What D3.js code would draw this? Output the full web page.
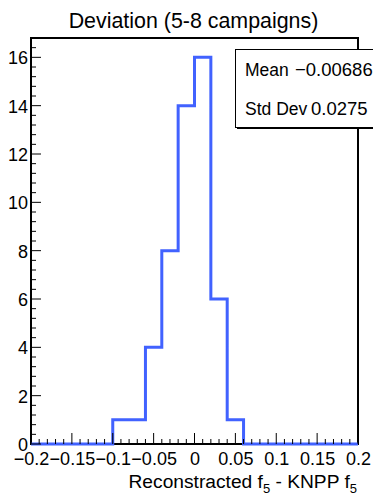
<!DOCTYPE html>
<html>
<head>
<meta charset="utf-8">
<script src="https://cdn.jsdelivr.net/npm/d3@7"></script>
<style>
  html, body { margin: 0; padding: 0; background: #fff; }
  svg { display: block; font-family: "Liberation Sans", Arial, Helvetica, sans-serif; }
</style>
</head>
<body>
<svg id="chart" width="373" height="493"></svg>
<script>
// Histogram bin edges (20 bins of width 0.02 over [-0.2, 0.2]) and counts
const binEdges = [-0.2, -0.18, -0.16, -0.14, -0.12, -0.1, -0.08, -0.06, -0.04, -0.02, 0,
                  0.02, 0.04, 0.06, 0.08, 0.1, 0.12, 0.14, 0.16, 0.18, 0.2];
const binCounts = [0, 0, 0, 0, 0, 1, 1, 4, 8, 14, 16, 6, 1, 0, 0, 0, 0, 0, 0, 0];

const xTicks = [-0.2, -0.15, -0.1, -0.05, 0, 0.05, 0.1, 0.15, 0.2];
const xTickLabels = ["\u22120.2", "\u22120.15", "\u22120.1", "\u22120.05", "0", "0.05", "0.1", "0.15", "0.2"];
const yTicks = [0, 2, 4, 6, 8, 10, 12, 14, 16];

const titleText = "Deviation (5-8 campaigns)";
const statLabels = ["Mean", "Std Dev"];
const statValues = ["\u22120.00686", "0.0275"];

const svg = d3.select("#chart");
const frame = { left: 31, right: 358, top: 38, bottom: 444 };

const yMax = d3.max(binCounts) * 1.05;
const x = d3.scaleLinear().domain([-0.2, 0.2]).range([frame.left, frame.right]);
const y = d3.scaleLinear().domain([0, yMax]).range([frame.bottom, frame.top]);

// Title
svg.append("text")
  .attr("x", 193.5).attr("y", 28)
  .attr("text-anchor", "middle")
  .style("font-size", "21.4px")
  .text(titleText);

// Frame
svg.append("rect")
  .attr("x", frame.left).attr("y", frame.top)
  .attr("width", frame.right - frame.left).attr("height", frame.bottom - frame.top)
  .attr("fill", "none").attr("stroke", "#000").attr("stroke-width", 2);

// Histogram outline as a step path
const pts = [];
binCounts.forEach((c, i) => {
  pts.push([binEdges[i], c]);
  pts.push([binEdges[i + 1], c]);
});
const line = d3.line().x(d => x(d[0])).y(d => y(d[1]));
svg.append("path")
  .attr("d", line(pts))
  .attr("fill", "none")
  .attr("stroke", "#4162ff")
  .attr("stroke-width", 3)
  .attr("stroke-linejoin", "miter");

// Y axis ticks (major every 2, minor every 0.4)
const yAxis = d3.axisLeft(y).tickValues(yTicks).tickFormat(d3.format("d")).tickSize(0).tickPadding(3);
const gy = svg.append("g").attr("transform", `translate(${frame.left},0)`).call(yAxis);
gy.select(".domain").remove();
gy.selectAll("text").style("font-size", "18px").attr("fill", "#000").attr("dy", "0.36em");
const yMinor = d3.range(0, yMax + 1e-9, 0.4);
svg.append("g").selectAll("line").data(yMinor).join("line")
  .attr("x1", frame.left)
  .attr("x2", (d, i) => frame.left + (i % 5 === 0 ? 10 : 5))
  .attr("y1", d => y(d)).attr("y2", d => y(d))
  .attr("stroke", "#000").attr("stroke-width", 1);

// X axis ticks (major every 0.05, minor every 0.01)
const xAxis = d3.axisBottom(x).tickValues(xTicks)
  .tickFormat((d, i) => xTickLabels[i]).tickSize(0).tickPadding(4);
const gx = svg.append("g").attr("transform", `translate(0,${frame.bottom})`).call(xAxis);
gx.select(".domain").remove();
gx.selectAll("text").style("font-size", "18px").attr("fill", "#000").attr("dy", "0.95em");
const xMinor = d3.range(0, 41).map(i => -0.2 + i * 0.01);
svg.append("g").selectAll("line").data(xMinor).join("line")
  .attr("x1", d => x(d)).attr("x2", d => x(d))
  .attr("y1", frame.bottom)
  .attr("y2", (d, i) => frame.bottom - (i % 5 === 0 ? 11 : 5))
  .attr("stroke", "#000").attr("stroke-width", 1);

// X axis title with subscripts
const xt = svg.append("text")
  .attr("x", 357).attr("y", 488)
  .attr("text-anchor", "end")
  .style("font-size", "19.2px");
xt.append("tspan").text("Reconstracted f");
xt.append("tspan").attr("dy", 5).style("font-size", "13px").text("5");
xt.append("tspan").attr("dy", -5).text(" - KNPP f");
xt.append("tspan").attr("dy", 5).style("font-size", "13px").text("5");

// Statistics box
const stats = svg.append("g");
stats.append("rect")
  .attr("x", 237).attr("y", 51).attr("width", 200).attr("height", 78)
  .attr("fill", "#000");
stats.append("rect")
  .attr("x", 235.5).attr("y", 49.5).attr("width", 200).attr("height", 78)
  .attr("fill", "#fff").attr("stroke", "#000").attr("stroke-width", 1);
const valueStart = [295, 311];
statLabels.forEach((lab, i) => {
  const by = 76 + i * 38.5;
  stats.append("text").attr("x", 245).attr("y", by)
    .style("font-size", "17.5px").text(lab);
  stats.append("text").attr("x", valueStart[i]).attr("y", by)
    .style("font-size", "18.5px").text(statValues[i]);
});
</script>
</body>
</html>
